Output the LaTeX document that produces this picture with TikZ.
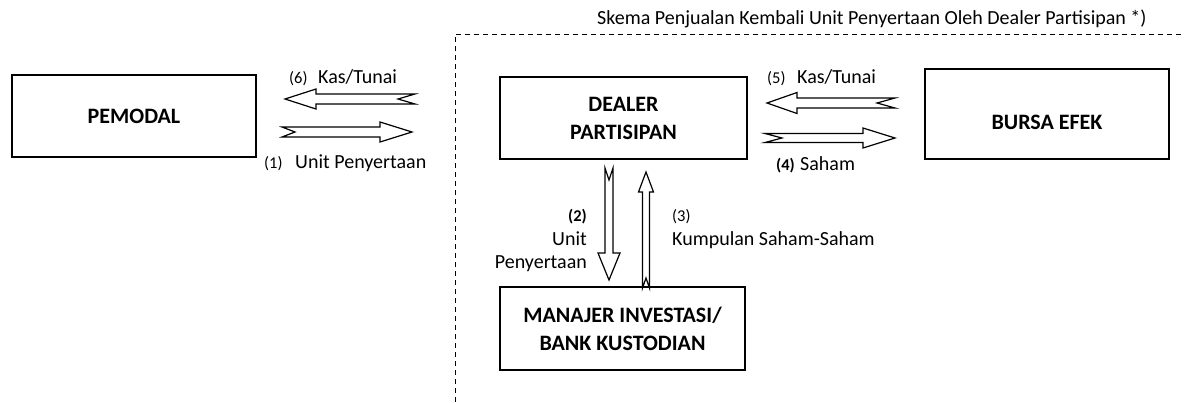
\documentclass[tikz,border=0pt]{standalone}
\usepackage{fontspec}
\setmainfont{Carlito}
\begin{document}
\begin{tikzpicture}[x=1pt,y=-1pt,
  box/.style={draw,line width=2pt,inner sep=0pt,align=center,
    font=\fontsize{22}{28}\selectfont\bfseries},
  txt/.style={inner sep=0pt,font=\fontsize{20}{24}\selectfont},
  num/.style={inner sep=0pt,font=\fontsize{16.5}{19}\selectfont},
  bnum/.style={inner sep=0pt,font=\fontsize{16.5}{19}\selectfont\bfseries},
  arrowline/.style={draw,line width=1.2pt,fill=white,line join=miter},
  pics/farrow/.style n args={5}{code={
    \draw[arrowline] (0,#2) -- ({#1-#4},#2) -- ({#1-#4},#3) -- (#1,0)
      -- ({#1-#4},-#3) -- ({#1-#4},-#2) -- (0,-#2) -- (#5,0) -- cycle;
  }}]
\useasboundingbox (0,0) rectangle (1185,402);

% dashed frame
\coordinate (fb) at (455,402);
\coordinate (fc) at (455,34);
\coordinate (fr) at (1185,34);
\draw[line width=1pt,dash pattern=on 5pt off 4pt] (fb) -- (fc) -- (fr);
\node[txt,anchor=base west] (title) at (597,24)
  {Skema Penjualan Kembali Unit Penyertaan Oleh Dealer Partisipan *)};

% boxes
\node[box,minimum width=244pt,minimum height=82pt] (pemodal) at (134,116) {PEMODAL};
\node[box,minimum width=247pt,minimum height=82pt] (dealer) at (623.5,118) {DEALER\\PARTISIPAN};
\node[box,minimum width=244pt,minimum height=90pt,text height=30pt,text depth=0pt] (bursa) at (1047,114) {BURSA EFEK};
\node[box,minimum width=245pt,minimum height=83pt] (mi) at (622.5,328.5) {MANAJER INVESTASI/\\BANK KUSTODIAN};

% arrows
\coordinate (a6) at (415,99);
\coordinate (a1) at (282,132);
\coordinate (a5) at (895,103);
\coordinate (a4) at (765,138);
\coordinate (a2) at (609,168);
\coordinate (a3) at (646,288);
\pic[rotate=180] at (a6) {farrow={130}{5}{10}{31}{17}};
\pic at (a1) {farrow={130}{5}{10}{32}{13}};
\pic[rotate=180] at (a5) {farrow={128}{5}{10.5}{30}{18}};
\pic at (a4) {farrow={130}{4.5}{10}{32}{17}};
\pic[rotate=-90] at (a2) {farrow={112}{4}{11}{27}{12}};
\pic[rotate=90] at (a3) {farrow={116}{3.5}{7.5}{20}{10}};

% labels
\node[num,anchor=base west] (n6) at (289,83) {(6)};
\node[txt,anchor=base west] (l6) at (318,83) {Kas/Tunai};
\node[num,anchor=base west] (n1) at (264,168) {(1)};
\node[txt,anchor=base west] (l1) at (295,168) {Unit Penyertaan};
\node[num,anchor=base west] (n5) at (767,83) {(5)};
\node[txt,anchor=base west] (l5) at (797,83) {Kas/Tunai};
\node[bnum,anchor=base west] (n4) at (776,170) {(4)};
\node[txt,anchor=base west] (l4) at (800,170) {Saham};
\node[bnum,anchor=base east] (n2) at (587,221) {(2)};
\node[txt,anchor=base east] (l2a) at (587,245) {Unit};
\node[txt,anchor=base east] (l2b) at (587,268) {Penyertaan};
\node[num,anchor=base west] (n3) at (672,221) {(3)};
\node[txt,anchor=base west] (l3) at (672,245) {Kumpulan Saham-Saham};
\end{tikzpicture}
\end{document}
